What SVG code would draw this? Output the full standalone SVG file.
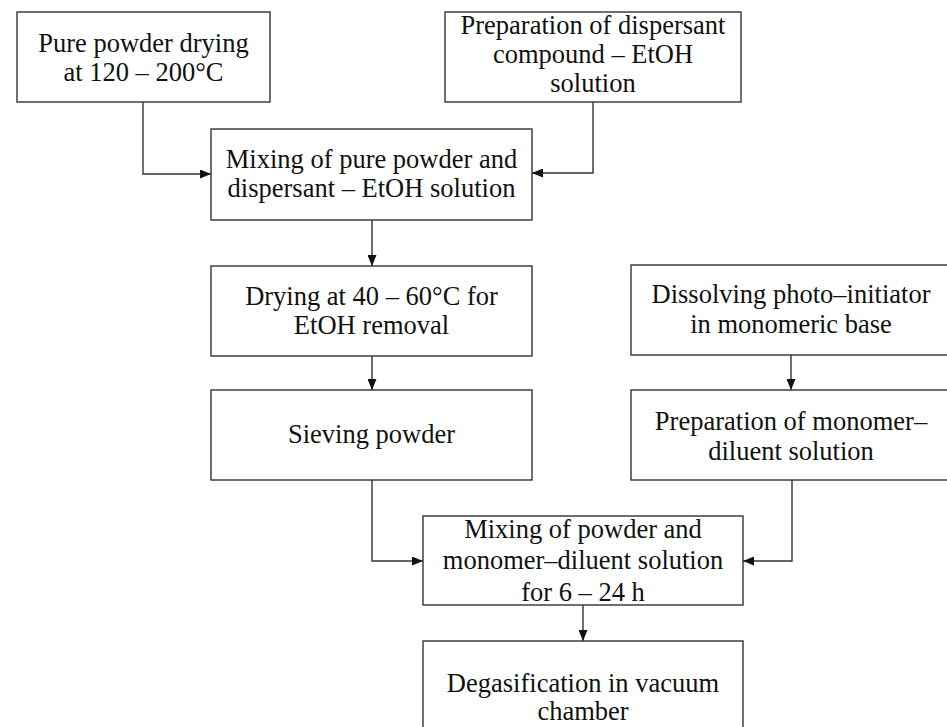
<svg xmlns="http://www.w3.org/2000/svg" width="947" height="727" viewBox="0 0 947 727">
<defs>
<marker id="ah" viewBox="0 0 11 9" refX="11" refY="4.5" markerWidth="11" markerHeight="9" markerUnits="userSpaceOnUse" orient="auto">
<path d="M0,0 L11,4.5 L0,9 z" fill="#111"/>
</marker>
</defs>
<style>
.box{fill:#fff;stroke:#333;stroke-width:1.4}
.t{font-family:"Liberation Serif","Times New Roman",serif;font-size:26.5px;fill:#111;text-anchor:middle}
.c{fill:none;stroke:#333;stroke-width:1.4;marker-end:url(#ah)}
</style>
<rect width="947" height="727" fill="#fff"/>
<g id="connectors">
<path class="c" d="M143,102 V174 H211"/>
<path class="c" d="M593,102 V173 H532"/>
<path class="c" d="M372,220 V266"/>
<path class="c" d="M372,356 V390"/>
<path class="c" d="M791,355 V390"/>
<path class="c" d="M372,480 V561 H423"/>
<path class="c" d="M792,480 V561 H743"/>
<path class="c" d="M583,605 V641"/>
</g>
<g id="n1"><rect class="box" x="17" y="12" width="253" height="90"/>
<text class="t" x="143.5" y="52">Pure powder drying</text><text class="t" x="143.5" y="81">at 120 – 200°C</text></g>
<g id="n2"><rect class="box" x="445" y="12" width="296" height="90"/>
<text class="t" x="593" y="34">Preparation of dispersant</text><text class="t" x="593" y="63">compound – EtOH</text><text class="t" x="593" y="92">solution</text></g>
<g id="n3"><rect class="box" x="211" y="129" width="321" height="91"/>
<text class="t" x="371.5" y="168">Mixing of pure powder and</text><text class="t" x="371.5" y="197">dispersant – EtOH solution</text></g>
<g id="n4"><rect class="box" x="211" y="266" width="321" height="90"/>
<text class="t" x="371.5" y="305">Drying at 40 – 60°C for</text><text class="t" x="371.5" y="334">EtOH removal</text></g>
<g id="n5"><rect class="box" x="211" y="390" width="321" height="90"/>
<text class="t" x="371.5" y="443">Sieving powder</text></g>
<g id="n6"><rect class="box" x="631" y="265" width="320" height="90"/>
<text class="t" x="791" y="303">Dissolving photo–initiator</text><text class="t" x="791" y="333">in monomeric base</text></g>
<g id="n7"><rect class="box" x="631" y="390" width="320" height="90"/>
<text class="t" x="791" y="430">Preparation of monomer–</text><text class="t" x="791" y="460">diluent solution</text></g>
<g id="n8"><rect class="box" x="423" y="516" width="320" height="89"/>
<text class="t" x="583" y="538">Mixing of powder and</text><text class="t" x="583" y="569">monomer–diluent solution</text><text class="t" x="583" y="601">for 6 – 24 h</text></g>
<g id="n9"><rect class="box" x="423" y="641" width="320" height="100"/>
<text class="t" x="583" y="692">Degasification in vacuum</text><text class="t" x="583" y="720">chamber</text></g>
</svg>
